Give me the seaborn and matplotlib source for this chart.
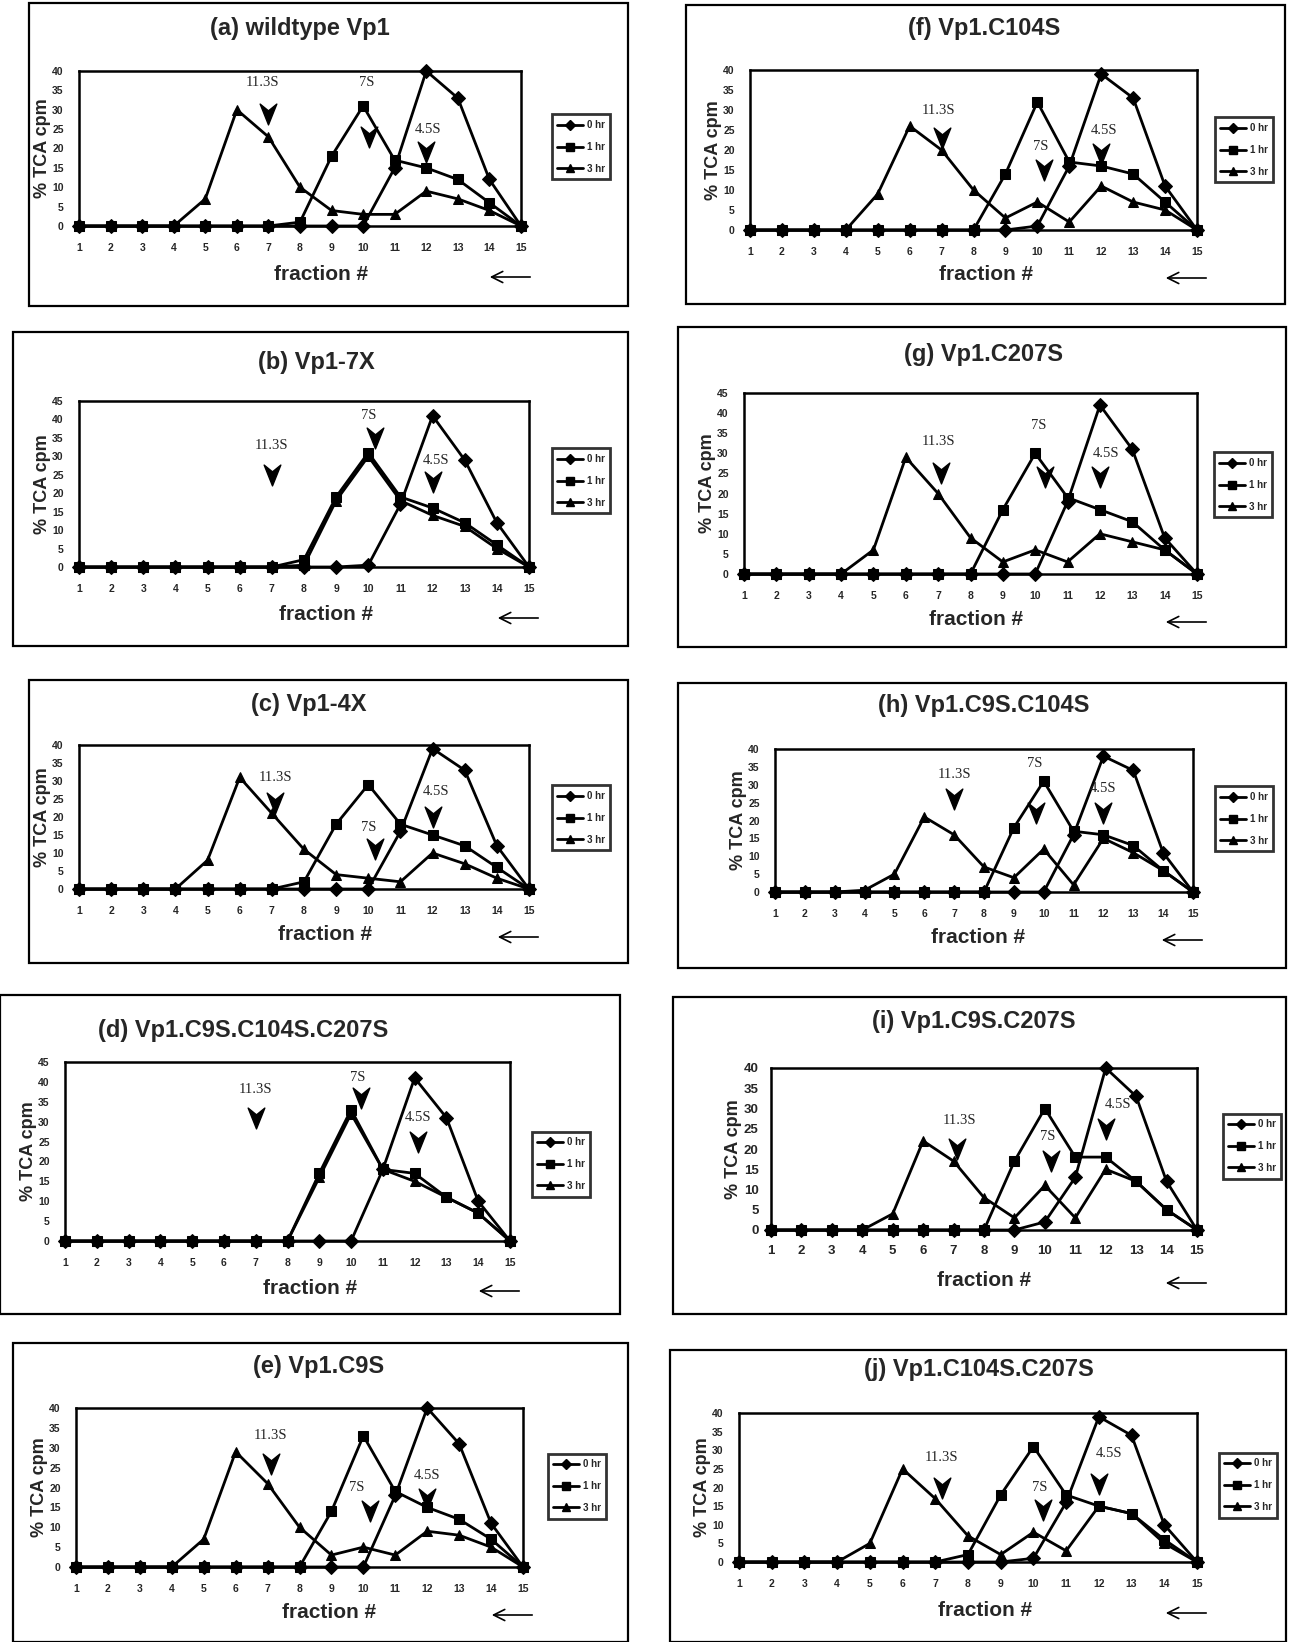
import numpy as np
import pandas as pd
import matplotlib
matplotlib.use('Agg')
import matplotlib.pyplot as plt
import matplotlib.patches as mpatches
from matplotlib.lines import Line2D
from matplotlib.path import Path
import seaborn as sns

# fractions of the sucrose gradient
fractions = list(range(1, 16))
times = ['0 hr', '1 hr', '3 hr']

# (a) wildtype Vp1
wt_0hr = [0, 0, 0, 0, 0, 0, 0, 0, 0, 0, 15, 40, 33, 12, 0]
wt_1hr = [0, 0, 0, 0, 0, 0, 0, 1, 18, 31, 17, 15, 12, 6, 0]
wt_3hr = [0, 0, 0, 0, 7, 30, 23, 10, 4, 3, 3, 9, 7, 4, 0]
# (b) Vp1-7X
x7_0hr = [0, 0, 0, 0, 0, 0, 0, 0, 0, 0.5, 17, 41, 29, 12, 0]
x7_1hr = [0, 0, 0, 0, 0, 0, 0, 2, 19, 31, 19, 16, 12, 6, 0]
x7_3hr = [0, 0, 0, 0, 0, 0, 0, 0.5, 18, 30, 18, 14, 11, 5, 0]
# (c) Vp1-4X
x4_0hr = [0, 0, 0, 0, 0, 0, 0, 0, 0, 0, 16, 39, 33, 12, 0]
x4_1hr = [0, 0, 0, 0, 0, 0, 0, 2, 18, 29, 18, 15, 12, 6, 0]
x4_3hr = [0, 0, 0, 0, 8, 31, 21, 11, 4, 3, 2, 10, 7, 3, 0]
# (d) Vp1.C9S.C104S.C207S
c9_104_207_0hr = [0, 0, 0, 0, 0, 0, 0, 0, 0, 0, 18, 41, 31, 10, 0]
c9_104_207_1hr = [0, 0, 0, 0, 0, 0, 0, 0, 17, 33, 18, 17, 11, 7, 0]
c9_104_207_3hr = [0, 0, 0, 0, 0, 0, 0, 0, 16, 32, 18, 15, 11, 7, 0]
# (e) Vp1.C9S
c9_0hr = [0, 0, 0, 0, 0, 0, 0, 0, 0, 0, 18, 40, 31, 11, 0]
c9_1hr = [0, 0, 0, 0, 0, 0, 0, 0, 14, 33, 19, 15, 12, 7, 0]
c9_3hr = [0, 0, 0, 0, 7, 29, 21, 10, 3, 5, 3, 9, 8, 5, 0]
# (f) Vp1.C104S
c104_0hr = [0, 0, 0, 0, 0, 0, 0, 0, 0, 1, 16, 39, 33, 11, 0]
c104_1hr = [0, 0, 0, 0, 0, 0, 0, 0, 14, 32, 17, 16, 14, 7, 0]
c104_3hr = [0, 0, 0, 0, 9, 26, 20, 10, 3, 7, 2, 11, 7, 5, 0]
# (g) Vp1.C207S
c207_0hr = [0, 0, 0, 0, 0, 0, 0, 0, 0, 0, 18, 42, 31, 9, 0]
c207_1hr = [0, 0, 0, 0, 0, 0, 0, 0, 16, 30, 19, 16, 13, 6, 0]
c207_3hr = [0, 0, 0, 0, 6, 29, 20, 9, 3, 6, 3, 10, 8, 6, 0]
# (h) Vp1.C9S.C104S
c9_104_0hr = [0, 0, 0, 0, 0, 0, 0, 0, 0, 0, 16, 38, 34, 11, 0]
c9_104_1hr = [0, 0, 0, 0, 0, 0, 0, 0, 18, 31, 17, 16, 13, 6, 0]
c9_104_3hr = [0, 0, 0, 0.5, 5, 21, 16, 7, 4, 12, 2, 15, 11, 6, 0]
# (i) Vp1.C9S.C207S
c9_207_0hr = [0, 0, 0, 0, 0, 0, 0, 0, 0, 2, 13, 40, 33, 12, 0]
c9_207_1hr = [0, 0, 0, 0, 0, 0, 0, 0, 17, 30, 18, 18, 12, 5, 0]
c9_207_3hr = [0, 0, 0, 0, 4, 22, 17, 8, 3, 11, 3, 15, 12, 5, 0]
# (j) Vp1.C104S.C207S
c104_207_0hr = [0, 0, 0, 0, 0, 0, 0, 0, 0, 1, 16, 39, 34, 10, 0]
c104_207_1hr = [0, 0, 0, 0, 0, 0, 0, 2, 18, 31, 18, 15, 13, 6, 0]
c104_207_3hr = [0, 0, 0, 0, 5, 25, 17, 7, 2, 8, 3, 15, 13, 5, 0]

# sedimentation standards: (label, text x, text y, arrow x, arrow y)
std_a = [('11.3S', 6.8, 37, 7.0, 29), ('7S', 10.1, 37, 10.2, 23), ('4.5S', 12.05, 25, 12.0, 19)]
std_b = [('11.3S', 7.0, 33, 7.0, 25), ('7S', 10.0, 41, 10.2, 35), ('4.5S', 12.1, 29, 12.0, 23)]
std_c = [('11.3S', 7.1, 31, 7.1, 24), ('7S', 10.0, 17, 10.2, 11), ('4.5S', 12.1, 27, 12.0, 20)]
std_d = [('11.3S', 7.0, 38, 7.0, 31), ('7S', 10.2, 41, 10.3, 36), ('4.5S', 12.1, 31, 12.1, 25)]
std_e = [('11.3S', 7.1, 33, 7.1, 26), ('7S', 9.8, 20, 10.2, 14), ('4.5S', 12.0, 23, 12.0, 17)]
std_f = [('11.3S', 6.9, 30, 7.0, 23), ('7S', 10.1, 21, 10.2, 15), ('4.5S', 12.1, 25, 12.0, 19)]
std_g = [('11.3S', 7.0, 33, 7.1, 25), ('7S', 10.1, 37, 10.3, 24), ('4.5S', 12.2, 30, 12.0, 24)]
std_h = [('11.3S', 7.0, 33, 7.0, 26), ('7S', 9.7, 36, 9.75, 22), ('4.5S', 12.0, 29, 12.0, 22)]
std_i = [('11.3S', 7.2, 27, 7.1, 20), ('7S', 10.1, 23, 10.2, 17), ('4.5S', 12.4, 31, 12.0, 25)]
std_j = [('11.3S', 7.2, 28, 7.2, 20), ('7S', 10.2, 20, 10.3, 14), ('4.5S', 12.3, 29, 12.0, 21)]

W, H = 1294, 1642


def fx(px):
    return px / W


def fy(py):
    return 1 - py / H


# layout in pixels: box, axes (l, t, r, b), legend centre, title pos, xlabel pos
panels = [
    dict(title='(a) wildtype Vp1', data=(wt_0hr, wt_1hr, wt_3hr), ymax=40, std=std_a,
         box=(29, 3, 628, 306), ax=(79, 71, 521, 226), leg=(581, 147), tpos=(300, 29), xl=(321, 274)),
    dict(title='(f) Vp1.C104S', data=(c104_0hr, c104_1hr, c104_3hr), ymax=40, std=std_f,
         box=(686, 5, 1285, 304), ax=(750, 70, 1197, 230), leg=(1244, 150), tpos=(984, 29), xl=(986, 275)),
    dict(title='(b) Vp1-7X', data=(x7_0hr, x7_1hr, x7_3hr), ymax=45, std=std_b,
         box=(13, 332, 628, 646), ax=(79, 401, 529, 567), leg=(581, 481), tpos=(316, 363), xl=(326, 615)),
    dict(title='(g) Vp1.C207S', data=(c207_0hr, c207_1hr, c207_3hr), ymax=45, std=std_g,
         box=(678, 327, 1286, 647), ax=(744, 393, 1197, 574), leg=(1243, 485), tpos=(984, 354), xl=(976, 619)),
    dict(title='(c) Vp1-4X', data=(x4_0hr, x4_1hr, x4_3hr), ymax=40, std=std_c,
         box=(29, 680, 628, 963), ax=(79, 745, 529, 889), leg=(581, 818), tpos=(309, 704), xl=(325, 934)),
    dict(title='(h) Vp1.C9S.C104S', data=(c9_104_0hr, c9_104_1hr, c9_104_3hr), ymax=40, std=std_h,
         box=(678, 683, 1286, 968), ax=(775, 749, 1193, 892), leg=(1244, 819), tpos=(984, 705), xl=(978, 937)),
    dict(title='(d) Vp1.C9S.C104S.C207S', data=(c9_104_207_0hr, c9_104_207_1hr, c9_104_207_3hr), ymax=45, std=std_d,
         box=(0, 995, 620, 1314), ax=(65, 1062, 510, 1241), leg=(561, 1164), tpos=(243, 1030), xl=(310, 1288)),
    dict(title='(i) Vp1.C9S.C207S', data=(c9_207_0hr, c9_207_1hr, c9_207_3hr), ymax=40, std=std_i,
         box=(673, 997, 1286, 1314), ax=(771, 1068, 1197, 1230), leg=(1252, 1146), tpos=(974, 1021), xl=(984, 1280),
         tick=9.5),
    dict(title='(e) Vp1.C9S', data=(c9_0hr, c9_1hr, c9_3hr), ymax=40, std=std_e,
         box=(13, 1343, 628, 1642), ax=(76, 1408, 523, 1567), leg=(577, 1486), tpos=(319, 1366), xl=(329, 1612)),
    dict(title='(j) Vp1.C104S.C207S', data=(c104_207_0hr, c104_207_1hr, c104_207_3hr), ymax=40, std=std_j,
         box=(670, 1350, 1286, 1642), ax=(739, 1413, 1197, 1562), leg=(1248, 1485), tpos=(979, 1369), xl=(985, 1610)),
]

sns.set_style('white')
plt.rcParams['font.family'] = ['Liberation Sans Narrow', 'Liberation Sans', 'DejaVu Sans']
plt.rcParams['font.weight'] = 'bold'

marker_map = {'0 hr': 'D', '1 hr': 's', '3 hr': '^'}
chevron = Path([(-0.8, 1), (0, -1), (0.8, 1), (0, 0.35), (-0.8, 1)],
               [Path.MOVETO, Path.LINETO, Path.LINETO, Path.LINETO, Path.CLOSEPOLY])

fig = plt.figure(figsize=(W / 100, H / 100), dpi=100)

for p in panels:
    # outer frame of the panel
    x0, y0, x1, y1 = p['box']
    fig.add_artist(mpatches.Rectangle((fx(x0), fy(y1)), (x1 - x0) / W, (y1 - y0) / H,
                                      transform=fig.transFigure, fill=False, lw=1.6, ec='black'))
    l, t, r, b = p['ax']
    ax = fig.add_axes([fx(l), fy(b), (r - l) / W, (b - t) / H])

    df = pd.DataFrame({
        'fraction': fractions * 3,
        'pct': list(p['data'][0]) + list(p['data'][1]) + list(p['data'][2]),
        'time': [tm for tm in times for _ in fractions],
    })
    sns.lineplot(data=df, x='fraction', y='pct', style='time', markers=marker_map, dashes=False,
                 color='black', linewidth=2.0, markersize=7, markeredgecolor='black',
                 clip_on=False, legend=False, ax=ax, zorder=3)

    ax.set_xlim(1, 15)
    ax.set_ylim(0, p['ymax'])
    ax.set_xticks(fractions)
    ax.set_yticks(range(0, p['ymax'] + 1, 5))
    ts = p.get('tick', 7.5)
    ax.tick_params(axis='both', direction='inout', length=6, width=1.5, labelsize=ts, pad=8 if ts < 9 else 6)
    ax.tick_params(axis='x', length=9)
    for lab in ax.get_xticklabels() + ax.get_yticklabels():
        lab.set_fontweight('bold')
    ax.set_xlabel('')
    ax.set_ylabel('% TCA cpm', fontsize=13, fontweight='bold', labelpad=1,
                  family=['Liberation Sans', 'DejaVu Sans'])
    for sp in ax.spines.values():
        sp.set_linewidth(1.8)
        sp.set_color('black')

    # sedimentation markers
    for lab, tx, ty, axx, ayy in p['std']:
        ax.text(tx, ty, lab, ha='center', va='center', fontsize=10.5, fontweight='normal',
                family=['Liberation Serif', 'DejaVu Serif'])
        ax.plot([axx], [ayy], marker=chevron, markersize=15, color='black', linestyle='none', zorder=4)

    # titles, axis label and direction arrow
    fig.text(fx(p['tpos'][0]), fy(p['tpos'][1]), p['title'], ha='center', va='center',
             fontsize=17, fontweight='bold')
    fig.text(fx(p['xl'][0]), fy(p['xl'][1]), 'fraction #', ha='center', va='center',
             fontsize=15, fontweight='bold')
    ay = fy(p['xl'][1] + 3)
    fig.add_artist(matplotlib.patches.FancyArrowPatch((fx(r + 12), ay), (fx(r - 34), ay),
                                                      transform=fig.transFigure, arrowstyle='->',
                                                      mutation_scale=20, lw=1.2, color='black'))

    handles = [Line2D([0], [0], color='black', lw=2.0, marker=marker_map[tm], markersize=5.5,
                      markeredgecolor='black') for tm in times]
    leg = fig.legend(handles, times, loc='center', bbox_to_anchor=(fx(p['leg'][0]), fy(p['leg'][1])),
                     fontsize=7, frameon=True, fancybox=False, handlelength=2.6, labelspacing=1.2,
                     borderpad=0.6, handletextpad=0.4, edgecolor='black')
    leg.get_frame().set_linewidth(2.0)
    for txt in leg.get_texts():
        txt.set_fontweight('bold')

fig.savefig('out.png', dpi=100, facecolor='white')
